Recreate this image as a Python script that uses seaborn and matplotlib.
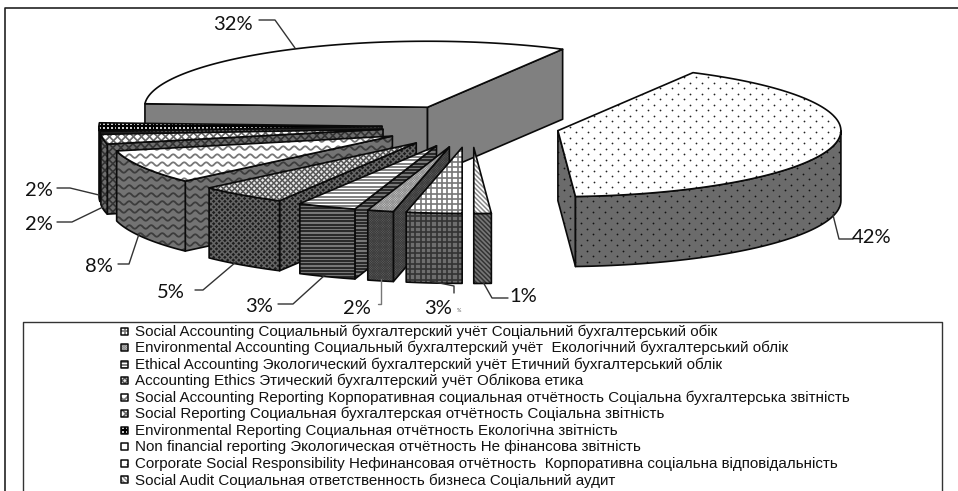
import numpy as np
import seaborn as sns
import matplotlib.pyplot as plt
from matplotlib.patches import Polygon
from matplotlib.collections import LineCollection

# значения секторов, порядок как в легенде (по часовой стрелке от низа)
shares = [3.2, 1.5, 3.4, 5.1, 8.4, 2.4, 2.1, 32.4, 41.5, 1.0]
share_labels = ["3%", "2%", "3%", "5%", "8%", "2%", "2%", "32%", "42%", "1%"]
legend_labels = [
    "Social Accounting Социальный бухгалтерский учёт Соціальний бухгалтерський обік",
    "Environmental Accounting Социальный бухгалтерский учёт  Екологічний бухгалтерський облік",
    "Ethical Accounting Экологический бухгалтерский учёт Етичний бухгалтерський облік",
    "Accounting Ethics Этический бухгалтерский учёт Облікова етика",
    "Social Accounting Reporting Корпоративная социальная отчётность Соціальна бухгалтерська звітність",
    "Social Reporting Социальная бухгалтерская отчётность Соціальна звітність",
    "Environmental Reporting Социальная отчётность Екологічна звітність",
    "Non financial reporting Экологическая отчётность Не фінансова звітність",
    "Corporate Social Responsibility Нефинансовая отчётность  Корпоративна соціальна відповідальність",
    "Social Audit Социальная ответственность бизнеса Соціальний аудит",
]
patterns = ["grid", "fine", "hstripe", "diamond", "wave", "xhatch", "check", "none", "dots", "diag"]

# подписи: центр текста и ломаная выноски
label_pos = [(438, 308), (357, 308), (259, 306), (171, 293), (99, 267),
             (39, 224), (39, 190), (233, 24), (872, 237), (523, 296)]
leader_x = [[430, 454, 454], [381, 381, 378], [325, 293, 278], [236, 203, 195], [139, 129, 118],
            [103, 72, 57], [99, 70, 57], [295, 275, 259], [833, 839, 853], [483, 492, 508]]
leader_y = [[281, 286, 293], [279, 304, 304], [275, 304, 304], [262, 290, 290], [234, 264, 264],
            [207, 222, 222], [195, 188, 188], [48, 20, 20], [215, 239, 239], [282, 298, 298]]

# геометрия псевдо-3D круга
center_x, center_y = 471, 126
radius_x, radius_y = 283, 66
explode_x, explode_y = 89, 21.5
depth = 70
start_angle = 180

# цвета: (цвет узора, фон) для верхней грани и боковых
top_style = {"grid": ("#777777", "white"), "fine": ("#8a8a8a", "#d8d8d8"), "hstripe": ("#777777", "white"),
             "diamond": ("#555555", "#e8e8e8"), "wave": ("#777777", "white"), "xhatch": ("#666666", "white"),
             "check": ("black", "white"), "none": ("white", "white"), "dots": ("#222222", "white"),
             "diag": ("#888888", "white")}
side_style = {"grid": ("#333333", "#6e6e6e"), "fine": ("#3a3a3a", "#666666"), "hstripe": ("#222222", "#777777"),
              "diamond": ("#666666", "#1c1c1c"), "wave": ("#3c3c3c", "#737373"), "xhatch": ("#333333", "#6e6e6e"),
              "check": ("#222222", "#666666"), "none": ("#808080", "#808080"), "dots": ("#111111", "#6b6b6b"),
              "diag": ("#333333", "#777777")}


def hatch_fill(ax, pts, kind, fg, bg, z, edge_lw=1.2):
    """ 다각형을 채우고 그 안에 무늬를 클리핑해서 그림 """
    pts = np.asarray(pts)
    poly = Polygon(pts, closed=True, facecolor=bg, edgecolor="none", zorder=z)
    ax.add_patch(poly)
    x0, y0 = pts.min(axis=0) - 12
    x1, y1 = pts.max(axis=0) + 12
    segs = []
    lw = 1.0

    def diagonals(step, sign):
        span = (x1 - x0) + (y1 - y0)
        for c in np.arange(0, span + step, step):
            if sign > 0:
                segs.append([(x0, y1 - c), (x0 + span, y1 - c + span)])
            else:
                segs.append([(x0, y0 + c), (x0 + span, y0 + c - span)])

    if kind == "grid":
        segs += [[(x, y0), (x, y1)] for x in np.arange(x0, x1, 5.3)]
        segs += [[(x0, y), (x1, y)] for y in np.arange(y0, y1, 5.3)]
        lw = 1.2
    elif kind == "fine":
        diagonals(2.4, 1)
        diagonals(2.4, -1)
        lw = 0.6
    elif kind == "hstripe":
        segs += [[(x0, y), (x1, y)] for y in np.arange(y0, y1, 3.3)]
        lw = 1.3
    elif kind == "diamond":
        diagonals(5.6, 1)
        diagonals(5.6, -1)
        lw = 1.1
    elif kind == "wave":
        xs = np.arange(x0, x1, 1.0)
        for y in np.arange(y0, y1, 8):
            segs.append(np.column_stack([xs, y + 1.8 * np.sin(xs * 2 * np.pi / 11)]))
        lw = 1.3
    elif kind == "xhatch":
        diagonals(8, 1)
        diagonals(8, -1)
        lw = 1.2
    elif kind == "check":
        segs += [[(x, y0), (x, y1)] for x in np.arange(x0, x1, 3.8)]
        segs += [[(x0, y), (x1, y)] for y in np.arange(y0, y1, 3.8)]
        lw = 1.6
    elif kind == "diag":
        diagonals(4.6, 1)
        lw = 1.1

    if kind == "dots":
        gx, gy = np.meshgrid(np.arange(x0, x1, 12), np.arange(y0, y1, 11))
        dx = np.concatenate([gx.ravel(), gx.ravel() + 6])
        dy = np.concatenate([gy.ravel(), gy.ravel() + 5.5])
        dots = ax.scatter(dx, dy, s=1.6, color=fg, linewidths=0, zorder=z)
        dots.set_clip_path(poly)
    elif segs:
        lines = LineCollection(segs, colors=fg, linewidths=lw, zorder=z)
        ax.add_collection(lines, autolim=False)
        lines.set_clip_path(poly)

    ax.add_patch(Polygon(pts, closed=True, fill=False, edgecolor="#0a0a0a", linewidth=edge_lw,
                         joinstyle="round", zorder=z))


def rim(apex, theta):
    rad = np.deg2rad(theta)
    return np.column_stack([apex[0] + radius_x * np.sin(rad), apex[1] - radius_y * np.cos(rad)])


def draw_slice(ax, apex, t1, t2, kind, z):
    side_fg, side_bg = side_style[kind]
    top_fg, top_bg = top_style[kind]
    down = np.array([0, depth])
    ap = np.array(apex, dtype=float)

    # 보이는 옆면(반지름 쪽)
    for theta, visible in ((t1, np.sin(np.deg2rad(t1)) < -1e-6), (t2, np.sin(np.deg2rad(t2)) > 1e-6)):
        if visible:
            p = rim(ap, np.array([theta]))[0]
            hatch_fill(ax, [ap, p, p + down, ap + down], kind, side_fg, side_bg, z)

    # 바깥쪽 곡면: 앞쪽(90~270도) 부분만
    for shift in (0, 360):
        a = max(t1, 90 + shift)
        b = min(t2, 270 + shift)
        if b > a:
            arc = rim(ap, np.linspace(a, b, 60))
            hatch_fill(ax, np.vstack([arc, (arc + down)[::-1]]), kind, side_fg, side_bg, z + 0.1)

    # 윗면
    arc = rim(ap, np.linspace(t1, t2, 120))
    hatch_fill(ax, np.vstack([ap, arc]), kind, top_fg, top_bg, z + 0.2)


def main():
    sns.set_theme(style="white")
    plt.rcParams["font.family"] = ["Lato", "DejaVu Sans"]

    fig, ax = plt.subplots(figsize=(9.58, 4.91), dpi=100)
    ax.set_position([0, 0, 1, 1])

    # 각도 계산
    total = sum(shares)
    ends = start_angle + np.cumsum(shares) / total * 360
    starts = np.concatenate([[start_angle], ends[:-1]])
    mids = (starts + ends) / 2
    # 뒤쪽 조각부터 그림
    order = np.argsort(-np.cos(np.deg2rad(mids)))
    for rank, i in enumerate(order):
        rad = np.deg2rad(mids[i])
        apex = (center_x + explode_x * np.sin(rad), center_y - explode_y * np.cos(rad))
        draw_slice(ax, apex, starts[i], ends[i], patterns[i], 3 + rank)

    # 외곽선
    ax.plot([5.5, 5.5, 958], [491, 7.5, 7.5], color="#222222", lw=1.2, zorder=1)

    # 지시선과 퍼센트 라벨
    for i, label in enumerate(share_labels):
        col = "#777777" if i == 1 else "#333333"
        sns.lineplot(x=leader_x[i], y=leader_y[i], sort=False, estimator=None, color=col,
                     linewidth=1.0, ax=ax, legend=False, zorder=20)
        ax.text(label_pos[i][0], label_pos[i][1], label, fontsize=14.5, color="#111111",
                ha="center", va="center", zorder=21)
    ax.text(459, 310, "%", fontsize=4, color="#555555", ha="center", va="center", zorder=21)

    # 범례
    ax.plot([23.5, 23.5, 942.5, 942.5], [491, 322, 322, 491], color="#333333", lw=1.0, zorder=1)
    for i, label in enumerate(legend_labels):
        y = 331 + 16.55 * i
        fg, bg = top_style[patterns[i]]
        hatch_fill(ax, [(121.5, y - 3.5), (128.5, y - 3.5), (128.5, y + 3.5), (121.5, y + 3.5)],
                   patterns[i], fg, bg, 30, edge_lw=1.1)
        ax.text(135, y + 0.5, label, family=["Liberation Sans", "DejaVu Sans"], fontsize=10.9,
                color="#111111", ha="left", va="center", zorder=31)

    ax.set_xlim(0, 958)
    ax.set_ylim(491, 0)
    ax.axis("off")
    fig.savefig("out.png", dpi=100, facecolor="white")


if __name__ == "__main__":
    main()
